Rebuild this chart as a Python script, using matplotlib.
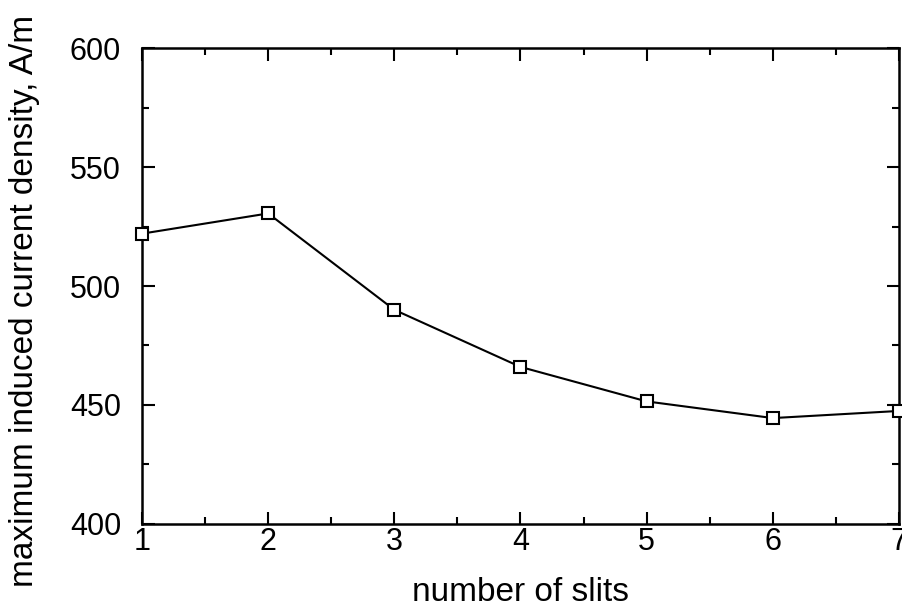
import matplotlib
matplotlib.use("Agg")
import matplotlib.pyplot as plt
from matplotlib.ticker import MultipleLocator

plt.rcParams['font.family'] = ['Liberation Sans', 'DejaVu Sans']

slits = [1, 2, 3, 4, 5, 6, 7]
density = [522, 530.5, 490, 466, 451.5, 444.5, 447.5]

fig = plt.figure(figsize=(9.02, 6.16), dpi=100)
ax = fig.add_axes([0.1574, 0.1494, 0.8393, 0.7726])
ax.plot(slits, density, color='black', lw=1.5, marker='s', ms=8.5,
        mfc='white', mec='black', mew=1.5, clip_on=False, zorder=5)
ax.set_xlim(1, 7)
ax.set_ylim(400, 600)
ax.xaxis.set_major_locator(MultipleLocator(1))
ax.xaxis.set_minor_locator(MultipleLocator(0.5))
ax.yaxis.set_major_locator(MultipleLocator(50))
ax.yaxis.set_minor_locator(MultipleLocator(25))
ax.tick_params(which='both', direction='in', top=True, right=True, width=1.5,
               labelsize=22)
ax.tick_params(axis='y', pad=15)
ax.tick_params(axis='x', pad=2.5)
ax.tick_params(which='major', length=9)
ax.tick_params(which='minor', length=5)
for s in ax.spines.values():
    s.set_linewidth(1.8)
ax.set_xlabel('number of slits', fontsize=24, labelpad=14)
ax.set_ylabel('maximum induced current density, A/m', fontsize=24)
ax.yaxis.set_label_coords(-0.135, 0.468)
fig.savefig('out.png', dpi=100)
